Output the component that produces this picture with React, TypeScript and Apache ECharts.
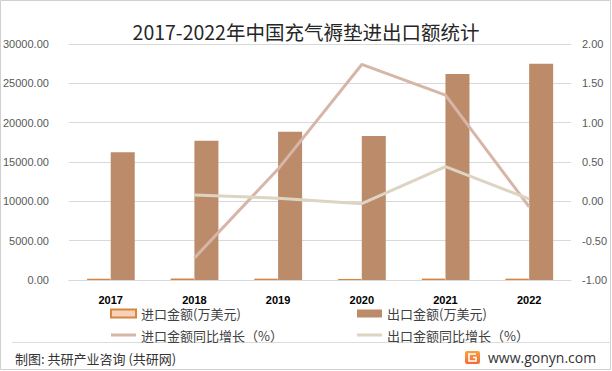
import React, { useEffect, useRef } from "react";
import * as echarts from "echarts";

const years = ["2017", "2018", "2019", "2020", "2021", "2022"];
const importAmount = [160, 190, 170, 130, 180, 170];
const exportAmount = [16250, 17700, 18850, 18300, 26200, 27500];
const importGrowth = [null, -0.72, 0.41, 1.74, 1.35, -0.07];
const exportGrowth = [null, 0.08, 0.04, -0.03, 0.44, 0.03];

const titleText = "2017-2022年中国充气褥垫进出口额统计";
const seriesNames = ["进口金额(万美元)", "出口金额(万美元)", "进口金额同比增长（%）", "出口金额同比增长（%）"];
const sourceText = "制图: 共研产业咨询 (共研网)";
const siteText = "www.gonyn.com";

const CJK = '"Noto Sans CJK SC", "Noto Sans", sans-serif';
const NUM = '"Liberation Sans", Arial, sans-serif';
const LINE_ICON = "path://M0,0L25,0L25,0.01L0,0.01ZM0,2.5L25,2.5L25,5.5L0,5.5ZM0,7.99L25,7.99L25,8L0,8Z";

export default function App() {
  const ref = useRef<HTMLDivElement>(null);
  useEffect(() => {
    document.body.style.margin = "0";
    const chart = echarts.init(ref.current!, null, { renderer: "svg" });
    const legendText = { fontFamily: CJK, fontSize: 13, color: "#404040" };
    chart.setOption({
      animation: false,
      backgroundColor: "#ffffff",
      title: {
        text: titleText,
        left: "center",
        top: 17,
        textStyle: { fontFamily: CJK, fontSize: 19.5, fontWeight: "normal", color: "#262626" },
      },
      grid: { left: 62, right: 41, top: 44, bottom: 91 },
      legend: [
        {
          orient: "vertical",
          left: 105,
          top: 302,
          itemWidth: 25,
          itemHeight: 8,
          itemGap: 8.5,
          textStyle: legendText,
          data: [{ name: seriesNames[0], icon: "rect" }, { name: seriesNames[2], icon: LINE_ICON }],
        },
        {
          orient: "vertical",
          left: 352,
          top: 302,
          itemWidth: 25,
          itemHeight: 8,
          itemGap: 8.5,
          textStyle: legendText,
          data: [{ name: seriesNames[1], icon: "rect" }, { name: seriesNames[3], icon: LINE_ICON }],
        },
      ],
      xAxis: {
        type: "category",
        data: years,
        axisLine: { lineStyle: { color: "#d9d9d9" } },
        axisTick: { show: false },
        axisLabel: { fontFamily: NUM, fontSize: 11, fontWeight: "bold", color: "#000", margin: 14 },
      },
      yAxis: [
        {
          type: "value",
          min: 0,
          max: 30000,
          interval: 5000,
          axisLine: { show: false },
          axisTick: { show: false },
          splitLine: { lineStyle: { color: "#d9d9d9" } },
          axisLabel: {
            fontFamily: NUM,
            fontSize: 11,
            color: "#595959",
            margin: 20,
            formatter: (v: number) => v.toFixed(2),
          },
        },
        {
          type: "value",
          min: -1,
          max: 2,
          interval: 0.5,
          axisLine: { show: false },
          axisTick: { show: false },
          splitLine: { show: false },
          axisLabel: {
            fontFamily: NUM,
            fontSize: 11,
            color: "#595959",
            margin: 11,
            formatter: (v: number) => v.toFixed(2),
          },
        },
      ],
      series: [
        {
          name: seriesNames[0],
          type: "bar",
          data: importAmount,
          barWidth: 24,
          barGap: "0%",
          itemStyle: { color: "#F6D3B8", borderColor: "#D9843F", borderWidth: 1 },
        },
        {
          name: seriesNames[1],
          type: "bar",
          data: exportAmount,
          barWidth: 24,
          barGap: "0%",
          itemStyle: { color: "#BC8B6A" },
        },
        {
          name: seriesNames[2],
          type: "line",
          yAxisIndex: 1,
          data: importGrowth,
          symbol: "none",
          lineStyle: { color: "#D6B6A8", width: 3 },
          itemStyle: { color: "#D6B6A8" },
        },
        {
          name: seriesNames[3],
          type: "line",
          yAxisIndex: 1,
          data: exportGrowth,
          symbol: "none",
          lineStyle: { color: "#DDD4C2", width: 3 },
          itemStyle: { color: "#DDD4C2" },
        },
      ],
      graphic: [
        {
          type: "rect",
          shape: { x: 0.5, y: 0.5, width: 610, height: 369 },
          style: { fill: "none", stroke: "#d0d0d0", lineWidth: 1 },
          silent: true,
        },
        {
          type: "line",
          shape: { x1: 12, y1: 342.5, x2: 611, y2: 342.5 },
          style: { stroke: "#dcdcdc", lineWidth: 1 },
        },
        {
          type: "text",
          x: 15,
          y: 358,
          style: { text: sourceText, fontFamily: CJK, fontSize: 13, fill: "#333", verticalAlign: "middle" },
        },
        {
          type: "rect",
          shape: { x: 465, y: 351, width: 15, height: 13, r: 2 },
          style: {
            fill: new echarts.graphic.LinearGradient(0, 0, 0, 1, [
              { offset: 0, color: "#F9A23B" },
              { offset: 1, color: "#F26B3A" },
            ]),
          },
        },
        {
          type: "polyline",
          shape: { points: [[476, 354], [469, 354], [469, 361], [476, 361], [476, 357.5], [473, 357.5]] },
          style: { stroke: "#fff", lineWidth: 1.6, fill: "none" },
        },
        {
          type: "text",
          x: 488,
          y: 357,
          style: { text: siteText, fontFamily: '"Open Sans", "Noto Sans", sans-serif', fontSize: 14, fill: "#333", verticalAlign: "middle" },
        },
      ],
    });
    return () => chart.dispose();
  }, []);
  return <div ref={ref} style={{ position: "absolute", left: 0, top: 0, width: 612, height: 371 }} />;
}
